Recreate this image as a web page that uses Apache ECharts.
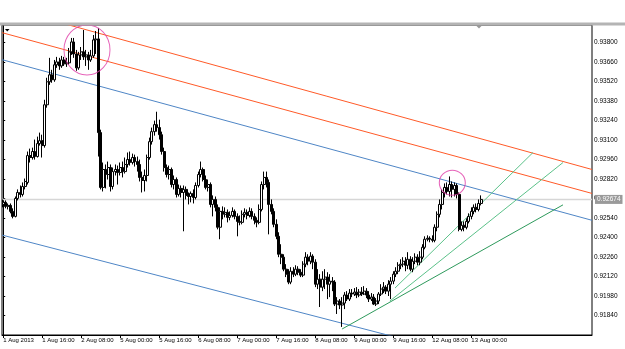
<!DOCTYPE html>
<html><head><meta charset="utf-8">
<script src="https://cdn.jsdelivr.net/npm/echarts@6/dist/echarts.min.js"></script>
<style>html,body{margin:0;padding:0;background:#fff}#c{width:625px;height:349px}</style>
</head><body><div id="c"></div>
<script>
// X tick labels (every 16 H1 bars)
const tickLabels = ['1 Aug 2013','1 Aug 16:00','2 Aug 08:00','5 Aug 00:00','5 Aug 16:00','6 Aug 08:00','7 Aug 00:00','7 Aug 16:00','8 Aug 08:00','9 Aug 00:00','9 Aug 16:00','12 Aug 08:00','13 Aug 00:00'];
const barsPerLabel = 16;
const totalSlots = 242;

// OHLC of H1 candles (prices)
const opens = [0.92638,0.92653,0.92624,0.92631,0.92588,0.92552,0.92681,0.92724,0.92710,0.92767,0.92796,0.92989,0.92975,0.93018,0.92982,0.93075,0.93096,0.93061,0.93354,0.93519,0.93569,0.93533,0.93641,0.93662,0.93633,0.93676,0.93648,0.93655,0.93734,0.93805,0.93719,0.93619,0.93712,0.93734,0.93698,0.93712,0.93676,0.93705,0.93820,0.93827,0.93154,0.92760,0.92889,0.92853,0.92903,0.92767,0.92874,0.92889,0.92867,0.92903,0.92874,0.92925,0.92960,0.92939,0.92975,0.92946,0.92925,0.92832,0.92810,0.92846,0.92975,0.93089,0.93161,0.93211,0.93190,0.93139,0.93018,0.92903,0.92853,0.92889,0.92781,0.92817,0.92710,0.92753,0.92724,0.92746,0.92703,0.92695,0.92717,0.92688,0.92774,0.92853,0.92889,0.92817,0.92760,0.92781,0.92638,0.92674,0.92617,0.92474,0.92588,0.92567,0.92581,0.92545,0.92559,0.92588,0.92552,0.92516,0.92509,0.92567,0.92581,0.92559,0.92588,0.92552,0.92524,0.92509,0.92602,0.92781,0.92832,0.92796,0.92638,0.92588,0.92495,0.92409,0.92280,0.92259,0.92173,0.92137,0.92080,0.92158,0.92137,0.92173,0.92151,0.92130,0.92209,0.92259,0.92230,0.92266,0.92223,0.92065,0.92101,0.92044,0.92101,0.92116,0.92065,0.92087,0.92080,0.91922,0.91944,0.91915,0.91929,0.91987,0.91958,0.92001,0.91994,0.92008,0.91987,0.92008,0.91994,0.92015,0.91987,0.91958,0.91972,0.91922,0.91944,0.91994,0.92030,0.92044,0.92015,0.92065,0.92087,0.92137,0.92158,0.92201,0.92209,0.92230,0.92201,0.92244,0.92173,0.92230,0.92259,0.92223,0.92259,0.92330,0.92388,0.92395,0.92388,0.92380,0.92474,0.92567,0.92638,0.92724,0.92760,0.92731,0.92781,0.92746,0.92774,0.92710,0.92459,0.92488,0.92474,0.92516,0.92552,0.92588,0.92617,0.92602,0.92645];
const closes = [0.92653,0.92624,0.92631,0.92588,0.92552,0.92681,0.92724,0.92710,0.92767,0.92803,0.92989,0.92975,0.93018,0.92982,0.93075,0.93096,0.93061,0.93354,0.93519,0.93569,0.93533,0.93641,0.93662,0.93633,0.93676,0.93648,0.93655,0.93734,0.93805,0.93719,0.93619,0.93712,0.93734,0.93698,0.93712,0.93676,0.93705,0.93820,0.93827,0.93154,0.92760,0.92889,0.92853,0.92903,0.92767,0.92874,0.92889,0.92867,0.92903,0.92874,0.92925,0.92960,0.92939,0.92975,0.92946,0.92925,0.92832,0.92810,0.92846,0.92975,0.93089,0.93161,0.93211,0.93190,0.93139,0.93018,0.92903,0.92853,0.92889,0.92781,0.92817,0.92710,0.92753,0.92724,0.92746,0.92703,0.92695,0.92717,0.92688,0.92774,0.92853,0.92889,0.92817,0.92760,0.92781,0.92638,0.92674,0.92617,0.92474,0.92588,0.92567,0.92581,0.92545,0.92559,0.92588,0.92552,0.92516,0.92509,0.92567,0.92581,0.92559,0.92588,0.92552,0.92524,0.92509,0.92602,0.92781,0.92832,0.92796,0.92638,0.92588,0.92495,0.92409,0.92280,0.92259,0.92173,0.92137,0.92080,0.92158,0.92137,0.92173,0.92151,0.92130,0.92209,0.92259,0.92230,0.92266,0.92223,0.92065,0.92101,0.92044,0.92101,0.92116,0.92065,0.92087,0.92080,0.91922,0.91944,0.91915,0.91929,0.91987,0.91958,0.92001,0.91994,0.92008,0.91987,0.92008,0.91994,0.92015,0.91987,0.91958,0.91972,0.91922,0.91944,0.91994,0.92030,0.92044,0.92015,0.92065,0.92087,0.92137,0.92158,0.92201,0.92209,0.92230,0.92201,0.92244,0.92173,0.92230,0.92259,0.92223,0.92259,0.92330,0.92388,0.92395,0.92388,0.92380,0.92474,0.92567,0.92638,0.92724,0.92760,0.92731,0.92781,0.92746,0.92774,0.92710,0.92459,0.92488,0.92474,0.92516,0.92552,0.92588,0.92617,0.92602,0.92645,0.92674];
const lows = [0.92617,0.92610,0.92602,0.92574,0.92538,0.92545,0.92667,0.92688,0.92695,0.92746,0.92781,0.92939,0.92960,0.92960,0.92975,0.93061,0.92975,0.93046,0.93333,0.93497,0.93512,0.93519,0.93619,0.93605,0.93619,0.93633,0.93626,0.93641,0.93712,0.93691,0.93598,0.93605,0.93676,0.93676,0.93633,0.93605,0.93662,0.93691,0.93719,0.92982,0.92746,0.92731,0.92753,0.92817,0.92731,0.92746,0.92846,0.92781,0.92846,0.92832,0.92860,0.92903,0.92917,0.92925,0.92910,0.92874,0.92803,0.92724,0.92731,0.92803,0.92960,0.93068,0.93132,0.93161,0.93104,0.92996,0.92874,0.92832,0.92817,0.92760,0.92746,0.92688,0.92695,0.92688,0.92445,0.92674,0.92638,0.92653,0.92645,0.92674,0.92760,0.92832,0.92803,0.92746,0.92731,0.92617,0.92552,0.92588,0.92459,0.92388,0.92531,0.92545,0.92509,0.92524,0.92545,0.92531,0.92409,0.92488,0.92495,0.92545,0.92531,0.92545,0.92531,0.92495,0.92474,0.92495,0.92588,0.92746,0.92760,0.92423,0.92567,0.92474,0.92388,0.92259,0.92209,0.92158,0.92116,0.92065,0.92065,0.92116,0.92123,0.92130,0.92116,0.92116,0.92187,0.92201,0.92209,0.92173,0.92044,0.92030,0.91901,0.92015,0.92030,0.91958,0.91972,0.92015,0.91908,0.91851,0.91886,0.91758,0.91886,0.91944,0.91944,0.91972,0.91980,0.91965,0.91972,0.91980,0.91987,0.91965,0.91937,0.91944,0.91915,0.91908,0.91922,0.91980,0.92001,0.91994,0.91980,0.91958,0.92065,0.92116,0.92137,0.92173,0.92187,0.92158,0.92173,0.92158,0.92151,0.92209,0.92201,0.92201,0.92244,0.92316,0.92373,0.92366,0.92366,0.92366,0.92445,0.92545,0.92602,0.92688,0.92710,0.92695,0.92688,0.92695,0.92681,0.92445,0.92445,0.92445,0.92459,0.92502,0.92531,0.92567,0.92581,0.92588,0.92631];
const highs = [0.92674,0.92667,0.92645,0.92645,0.92610,0.92695,0.92746,0.92774,0.92796,0.92824,0.93018,0.93039,0.93046,0.93104,0.93125,0.93154,0.93139,0.93390,0.93548,0.93691,0.93605,0.93676,0.93698,0.93691,0.93705,0.93698,0.93691,0.93762,0.93834,0.93834,0.93748,0.93734,0.93769,0.93891,0.93748,0.93734,0.93748,0.93855,0.93884,0.93906,0.93175,0.92939,0.92925,0.92946,0.92925,0.92903,0.92925,0.92917,0.92939,0.92946,0.92975,0.93011,0.93018,0.93003,0.92996,0.92982,0.92960,0.92874,0.92889,0.92996,0.93118,0.93190,0.93240,0.93304,0.93247,0.93161,0.93046,0.92925,0.92917,0.92903,0.92846,0.92832,0.92781,0.92774,0.92774,0.92767,0.92724,0.92731,0.92746,0.92796,0.92874,0.92946,0.92903,0.92846,0.92817,0.92796,0.92703,0.92695,0.92638,0.92617,0.92624,0.92617,0.92602,0.92588,0.92617,0.92602,0.92574,0.92559,0.92595,0.92610,0.92602,0.92617,0.92610,0.92574,0.92545,0.92638,0.92803,0.92874,0.92874,0.92817,0.92674,0.92610,0.92531,0.92438,0.92352,0.92280,0.92209,0.92173,0.92187,0.92187,0.92201,0.92194,0.92173,0.92230,0.92295,0.92280,0.92295,0.92280,0.92244,0.92173,0.92137,0.92158,0.92173,0.92151,0.92137,0.92116,0.92094,0.91972,0.91958,0.91972,0.92008,0.92015,0.92030,0.92030,0.92037,0.92044,0.92030,0.92044,0.92051,0.92037,0.92015,0.92001,0.91994,0.91965,0.92008,0.92065,0.92080,0.92058,0.92094,0.92116,0.92158,0.92187,0.92223,0.92244,0.92259,0.92259,0.92295,0.92266,0.92259,0.92287,0.92280,0.92302,0.92352,0.92409,0.92416,0.92409,0.92416,0.92495,0.92588,0.92674,0.92746,0.92789,0.92796,0.92839,0.92803,0.92796,0.92789,0.92724,0.92516,0.92516,0.92538,0.92574,0.92617,0.92638,0.92645,0.92674,0.92703];

// Drawn objects: [bar index, price] anchor pairs
const orangeUpper = [[-0.5, 0.94060], [241.5, 0.92889]];
const orangeLower = [[-0.5, 0.93872], [241.5, 0.92717]];
const blueUpper = [[-0.5, 0.93678], [241.5, 0.92524]];
const blueLower = [[-0.5, 0.92418], [241.5, 0.91319]];
const greenDark = [[139.0, 0.91743], [229.6, 0.92635]];
const greenMid = [[158.6, 0.91944], [229.6, 0.92939]];
const greenTop = [[160.7, 0.92037], [217.3, 0.93011]];
const circles = [[34.36, 0.93748], [184.2, 0.92794]];
const circleSizes = [[46, 50], [26, 25]];

const categories = [];
for (let i = 0; i < totalSlots; i++) {
  const k = i / barsPerLabel;
  categories.push((i % barsPerLabel === 0 && k < tickLabels.length) ? tickLabels[k] : 'b' + i);
}
const showTick = (i) => i % barsPerLabel === 0 && i / barsPerLabel < tickLabels.length;
const ohlc = opens.map((o, i) => [o, closes[i], lows[i], highs[i]]);
const lastClose = closes[closes.length - 1];
const bidLine = [[-0.5, lastClose], [totalSlots - 0.5, lastClose]];

const chart = echarts.init(document.getElementById('c'), null, {renderer: 'canvas'});
const FONT = "'Liberation Sans',Arial,sans-serif";
function trend(data, color) {
  return {type: 'line', xAxisIndex: 1, yAxisIndex: 0, data: data, symbol: 'none', silent: true,
    lineStyle: {color: color, width: 1}, clip: true, z: 3, animation: false};
}
chart.setOption({
  animation: false,
  backgroundColor: '#ffffff',
  grid: {left: 2, right: 33, top: 25, bottom: 14, show: true, borderColor: '#000', borderWidth: 1, backgroundColor: '#fff'},
  xAxis: [{
    type: 'category', data: categories, boundaryGap: true,
    axisLine: {show: true, lineStyle: {color: '#000', width: 1}},
    axisTick: {show: true, alignWithLabel: true, length: 3, interval: (i) => showTick(i), lineStyle: {color: '#000'}},
    axisLabel: {show: true, interval: (i) => showTick(i), align: 'left', margin: 2, fontSize: 6, fontFamily: FONT, color: '#000'},
    splitLine: {show: false}
  }, {
    type: 'value', min: -0.5, max: totalSlots - 0.5, show: false
  }],
  yAxis: [{
    type: 'value', position: 'right', min: 0.917, max: 0.93927, interval: 0.0014, scale: true,
    axisLine: {show: true, lineStyle: {color: '#000', width: 1}},
    axisTick: {show: true, length: 2, lineStyle: {color: '#000'}},
    axisLabel: {show: true, showMinLabel: false, showMaxLabel: false, margin: 2, fontSize: 6.5, fontFamily: FONT, color: '#000',
      formatter: (v) => v.toFixed(5)},
    splitLine: {show: false}
  }],
  graphic: [
    {type: 'rect', shape: {x: 0, y: 22.5, width: 625, height: 3}, style: {fill: '#b4b4b4'}, z: 100, silent: true},
    {type: 'polygon', shape: {points: [[5, 29], [9.5, 29], [7.25, 31.5]]}, style: {fill: '#000'}, z: 100, silent: true},
    {type: 'polygon', shape: {points: [[476.5, 26], [481.5, 26], [479, 28.5]]}, style: {fill: '#999'}, z: 100, silent: true}
  ],
  series: [
    {
      type: 'line', xAxisIndex: 1, yAxisIndex: 0, data: bidLine, symbol: 'none', silent: true, z: 2,
      lineStyle: {color: '#d6d6d6', width: 1.5}, clip: false,
      endLabel: {show: true, formatter: () => lastClose.toFixed(5), distance: 3, fontSize: 6.5, fontFamily: FONT,
        color: '#ffffff', backgroundColor: '#9a9a9a', padding: [1, 2, 1, 2]}
    },
    {
      type: 'candlestick', xAxisIndex: 0, yAxisIndex: 0, data: ohlc, barWidth: 2.5, z: 4,
      itemStyle: {color: '#ffffff', color0: '#000000', borderColor: '#000000', borderColor0: '#000000', borderWidth: 1}
    },
    trend(orangeUpper, '#ff5a28'),
    trend(orangeLower, '#ff5a28'),
    trend(blueUpper, '#4f86c6'),
    trend(blueLower, '#4f86c6'),
    trend(greenDark, '#2e9a5c'),
    trend(greenMid, '#5cc28a'),
    trend(greenTop, '#5cc28a'),
    {
      type: 'scatter', xAxisIndex: 1, yAxisIndex: 0, silent: true, z: 5,
      data: circles.map((c, i) => ({value: c, symbolSize: circleSizes[i]})),
      symbol: 'circle',
      itemStyle: {color: 'rgba(0,0,0,0)', borderColor: '#e03ca8', borderWidth: 1}
    }
  ]
});
</script></body></html>
